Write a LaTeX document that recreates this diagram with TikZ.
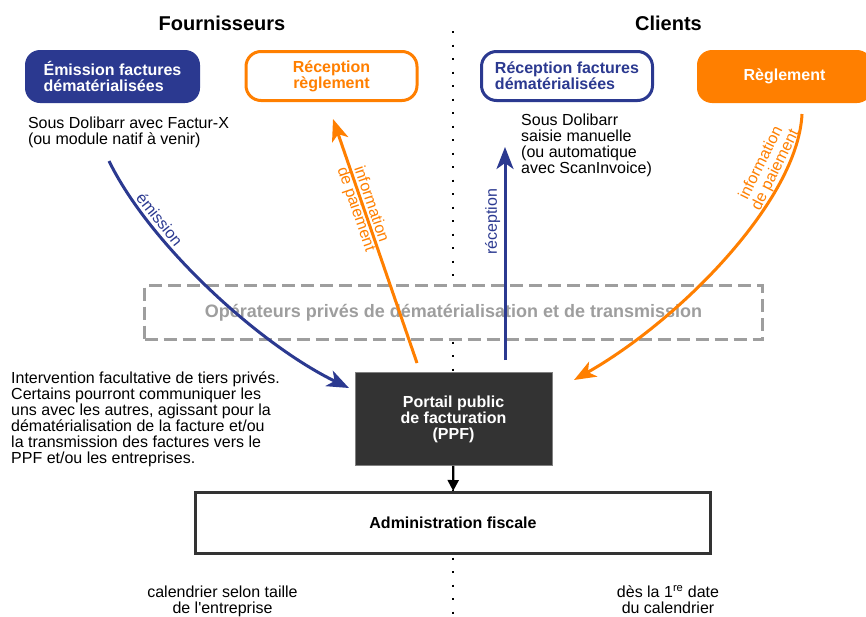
\documentclass[tikz,border=0pt]{standalone}
\usepackage{fontspec}
\setmainfont{Liberation Sans}
\usetikzlibrary{positioning, arrows.meta}

\definecolor{navy}{RGB}{43,57,144}
\definecolor{payorange}{RGB}{255,127,0}
\definecolor{ppfgray}{RGB}{51,51,51}
\definecolor{opgray}{RGB}{158,158,158}

\begin{document}
\begin{tikzpicture}[
    x=1pt, y=-1pt,
    body/.style={font=\fontsize{16pt}{16pt}\selectfont},
    strong/.style={font=\fontsize{16pt}{16pt}\selectfont\bfseries},
    heading/.style={font=\fontsize{20pt}{20pt}\selectfont\bfseries},
    note/.style={body, inner sep=0pt, align=left, anchor=north west},
    actor/.style={strong, rounded corners=15pt, inner sep=0pt, minimum width=175pt, minimum height=53pt},
    actorline/.style={actor, fill=white, line width=3pt, minimum width=171pt, minimum height=49pt},
    invoiceflow/.style={draw=navy, line width=3pt, -{Stealth[length=22pt, width=17pt, inset=6pt]}},
    payflow/.style={draw=payorange, line width=3pt, -{Stealth[length=22pt, width=17pt, inset=6pt]}},
    flowlabel/.style={body, sloped, align=center}
]
    % Bounding box and column divider
    \useasboundingbox (0,0) rectangle (866,616);
    \coordinate (div-top) at (453,31);
    \coordinate (div-bot) at (453,616);
    \draw[line width=2pt, dash pattern=on 2pt off 11.5pt] (div-top) -- (div-bot);

    % Titles
    \node[heading, anchor=base] (fourn-title) at (222,30) {Fournisseurs};
    \node[heading, anchor=base] (client-title) at (668.5,30) {Clients};

    % Actor boxes
    \node[actor, fill=navy, text=white, align=left] (emission) at (112.5,76.5) {Émission factures\\dématérialisées};
    \node[actorline, draw=payorange, text=payorange, align=center] (recregl) at (331.5,76) {Réception\\règlement};
    \node[actorline, draw=navy, text=navy, align=left] (recfact) at (567,76) {Réception factures\\dématérialisées};
    \node[actor, fill=payorange, text=white] (reglement) at (784.5,76.5) {Règlement};

    % Notes
    \node[note, below right=13.3pt and 3pt of emission.south west] (fourn-note) {Sous Dolibarr avec Factur-X\\(ou module natif à venir)};
    \node[note, below right=11.3pt and 41pt of recfact.south west] (client-note) {Sous Dolibarr\\saisie manuelle\\(ou automatique\\avec ScanInvoice)};
    \node[note] (tiers-note) at (11,371.5) {Intervention facultative de tiers privés.\\Certains pourront communiquer les\\uns avec les autres, agissant pour la\\dématérialisation de la facture et/ou\\la transmission des factures vers le\\PPF et/ou les entreprises.};

    % Platforms
    \node[draw=opgray, fill=white, line width=3pt, dash pattern=on 13pt off 6pt, minimum width=618pt, minimum height=54pt,
          text=opgray, font=\fontsize{18pt}{18pt}\selectfont\bfseries] (operators) at (453.5,312.5)
          {Opérateurs privés de dématérialisation et de transmission};
    \node[strong, fill=ppfgray, draw=gray, line width=0.6pt, text=white, align=center, minimum width=197pt, minimum height=93pt] (ppf) at (453.5,419)
          {Portail public\\de facturation\\(PPF)};
    \node[strong, draw=ppfgray, fill=white, line width=3pt, minimum width=515pt, minimum height=61pt] (admin) at (453,523) {Administration fiscale};

    % Calendar notes
    \node[body, inner sep=0pt, align=center, anchor=north] (cal-left) at (222.5,585.3) {calendrier selon taille\\de l\textquotesingle entreprise};
    \node[body, inner sep=0pt, align=center, anchor=north] (cal-right) at (668,585.3) {dès la 1\textsuperscript{re} date\\du calendrier};

    % Flow end points
    \coordinate (emi-a) at (109,161);
    \coordinate (emi-b) at (349,388);
    \coordinate (pay-a) at (417,363);
    \coordinate (pay-b) at (333,119);
    \coordinate (rec-a) at (505,360);
    \coordinate (rec-b) at (505,147);
    \coordinate (regl-a) at (802,114);
    \coordinate (regl-b) at (574,380);

    % Flows
    \draw[invoiceflow] (emi-a) .. controls +(41,84) and +(-89,-43) .. node[flowlabel, pos=0.25, above, text=navy] {émission} (emi-b);
    \draw[payflow] (pay-a) -- node[flowlabel, pos=0.64, text=payorange] {information\\de paiement} (pay-b);
    \draw[invoiceflow] (rec-a) -- node[flowlabel, pos=0.65, above, text=navy] {réception} (rec-b);
    \draw[payflow] (regl-a) .. controls +(-4,86) and +(106,-60) .. node[flowlabel, pos=0.22, above, inner sep=0.5pt, text=payorange] {information\\de paiement} (regl-b);
    \draw[line width=2.2pt, -{Triangle[length=11pt, width=11pt]}] (ppf) -- (admin);
\end{tikzpicture}
\end{document}
